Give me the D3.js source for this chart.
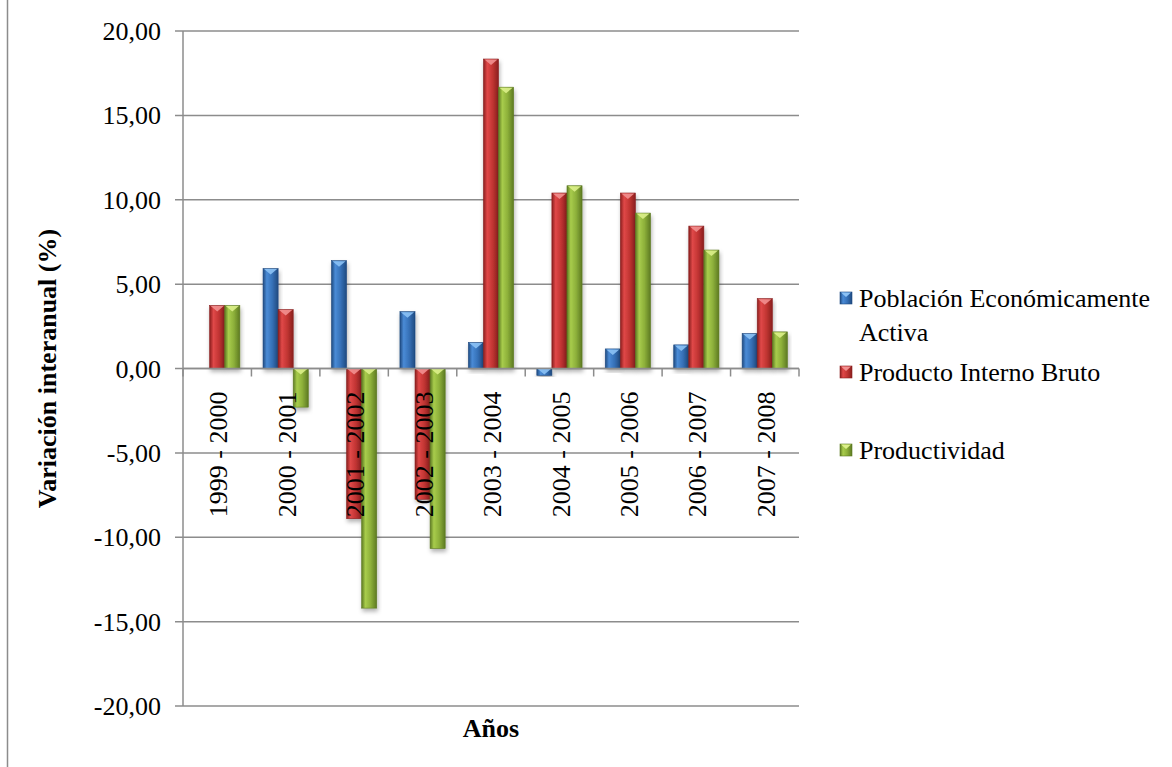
<!DOCTYPE html>
<html>
<head>
<meta charset="utf-8">
<script src="https://cdn.jsdelivr.net/npm/d3@7"></script>
<style>
  body { margin: 0; background: #fff; }
</style>
</head>
<body>
<div id="chart"></div>
<script>
const categories = ["1999 - 2000", "2000 - 2001", "2001 - 2002", "2002 - 2003", "2003 - 2004",
    "2004 - 2005", "2005 - 2006", "2006 - 2007", "2007 - 2008"];
const seriesNames = ["Población Económicamente Activa", "Producto Interno Bruto", "Productividad"];
const pea = [0, 5.92, 6.39, 3.37, 1.54, -0.41, 1.16, 1.40, 2.07];
const pib = [3.73, 3.49, -8.90, -7.75, 18.34, 10.40, 10.40, 8.44, 4.14];
const productividad = [3.73, -2.29, -14.20, -10.67, 16.67, 10.83, 9.21, 7.02, 2.17];
const yTicks = [-20, -15, -10, -5, 0, 5, 10, 15, 20];

const colors = [
    { light: "#4a8bd6", mid: "#3671b8", dark: "#1f4a80", tip: "#8cc2f5" },
    { light: "#e04848", mid: "#c23533", dark: "#8a1f1e", tip: "#f29090" },
    { light: "#a8cc4c", mid: "#8db03a", dark: "#5d7a22", tip: "#dcf08a" }
];

const W = 1172, H = 767;
const plot = { left: 183, right: 799, top: 31, bottom: 706 };
const FONT = "'Liberation Serif', Tinos, 'Times New Roman', 'DejaVu Serif', serif";
const FS = 26;

const svg = d3.select("#chart")
    .append("svg")
        .attr("width", W)
        .attr("height", H)
        .attr("font-family", FONT);

const defs = svg.append("defs");
colors.forEach((c, i) => {
    const g = defs.append("linearGradient")
        .attr("id", `grad${i}`)
        .attr("x1", "0").attr("x2", "1").attr("y1", "0").attr("y2", "0");
    g.append("stop").attr("offset", "0%").attr("stop-color", c.dark);
    g.append("stop").attr("offset", "25%").attr("stop-color", c.light);
    g.append("stop").attr("offset", "60%").attr("stop-color", c.mid);
    g.append("stop").attr("offset", "100%").attr("stop-color", c.dark);
});
const shadow = defs.append("filter").attr("id", "shadow")
    .attr("x", "-30%").attr("y", "-10%").attr("width", "160%").attr("height", "130%");
shadow.append("feDropShadow")
    .attr("dx", 1).attr("dy", 3).attr("stdDeviation", 2)
    .attr("flood-color", "#000").attr("flood-opacity", 0.3);

// left frame edge
svg.append("line")
    .attr("x1", 7.5).attr("x2", 7.5).attr("y1", 0).attr("y2", H)
    .attr("stroke", "#8c8c8c").attr("stroke-width", 1.5);

const y = d3.scaleLinear()
    .domain([-20, 20])
    .range([plot.bottom, plot.top]);

const x0 = d3.scaleBand()
    .domain(categories)
    .range([plot.left, plot.right]);

const x1 = d3.scaleBand()
    .domain(d3.range(3))
    .range([11.6, x0.bandwidth() - 11.6]);

// gridlines
svg.append("g")
    .selectAll("line")
    .data(yTicks)
    .enter()
    .append("line")
        .attr("x1", plot.left - 8)
        .attr("x2", plot.right)
        .attr("y1", d => y(d))
        .attr("y2", d => y(d))
        .attr("stroke", "#8c8c8c")
        .attr("stroke-width", 1.5);

// y axis labels
const fmt = d => d3.format(".2f")(d).replace(".", ",").replace("\u2212", "-");
svg.append("g")
    .selectAll("text")
    .data(yTicks)
    .enter()
    .append("text")
        .attr("x", 161)
        .attr("y", d => y(d))
        .attr("dy", "0.35em")
        .attr("text-anchor", "end")
        .attr("font-size", FS)
        .text(fmt);

svg.append("line")
    .attr("x1", plot.left).attr("x2", plot.left)
    .attr("y1", plot.top).attr("y2", plot.bottom)
    .attr("stroke", "#8c8c8c").attr("stroke-width", 1.5);

// bars
const seriesData = [pea, pib, productividad];
const groups = svg.append("g")
    .selectAll("g")
    .data(categories)
    .enter()
    .append("g")
        .attr("transform", d => `translate(${x0(d)},0)`);

const bars = groups.selectAll("g")
    .data((d, ci) => seriesData.map((s, si) => ({ si, v: s[ci] })).filter(d => d.v !== 0))
    .enter()
    .append("g");

bars.append("rect")
    .attr("x", d => x1(d.si))
    .attr("y", d => y(Math.max(0, d.v)))
    .attr("width", x1.bandwidth())
    .attr("height", d => Math.abs(y(d.v) - y(0)))
    .attr("fill", d => `url(#grad${d.si})`)
    .attr("stroke", d => colors[d.si].dark)
    .attr("stroke-width", 0.6)
    .attr("filter", "url(#shadow)");

bars.append("path")
    .attr("d", d => {
        const xl = x1(d.si), w = x1.bandwidth();
        const top = y(Math.max(0, d.v));
        const h = Math.min(6, Math.abs(y(d.v) - y(0)));
        return `M${xl + 1},${top + 0.5} L${xl + w - 1},${top + 0.5} L${xl + w / 2},${top + h} Z`;
    })
    .attr("fill", d => colors[d.si].tip)
    .attr("opacity", 0.9);

// x axis line & ticks
svg.append("line")
    .attr("x1", plot.left).attr("x2", plot.right)
    .attr("y1", y(0)).attr("y2", y(0))
    .attr("stroke", "#8c8c8c").attr("stroke-width", 1.5);

svg.append("g")
    .selectAll("line")
    .data(categories.concat(["end"]))
    .enter()
    .append("line")
        .attr("x1", (d, i) => plot.left + i * x0.step())
        .attr("x2", (d, i) => plot.left + i * x0.step())
        .attr("y1", y(0))
        .attr("y2", y(0) + 8)
        .attr("stroke", "#8c8c8c")
        .attr("stroke-width", 1.5);

// category labels
svg.append("g")
    .selectAll("text")
    .data(categories)
    .enter()
    .append("text")
        .attr("transform", d => `translate(${x0(d) + x0.bandwidth() / 2 + 1},${y(0) + 23}) rotate(-90)`)
        .attr("text-anchor", "end")
        .attr("dy", "0.35em")
        .attr("font-size", FS)
        .text(d => d);

// axis titles
svg.append("text")
    .attr("transform", `translate(47,${y(0)}) rotate(-90)`)
    .attr("text-anchor", "middle")
    .attr("dy", "0.35em")
    .attr("font-size", FS)
    .attr("font-weight", "bold")
    .text("Variación interanual (%)");

svg.append("text")
    .attr("x", (plot.left + plot.right) / 2)
    .attr("y", 737)
    .attr("text-anchor", "middle")
    .attr("font-size", FS)
    .attr("font-weight", "bold")
    .text("Años");

// legend
const legendRows = [
    { si: 0, lines: ["Población Económicamente", "Activa"], y: 298 },
    { si: 1, lines: ["Producto Interno Bruto"], y: 372 },
    { si: 2, lines: ["Productividad"], y: 450 }
];
const legend = svg.append("g")
    .selectAll("g")
    .data(legendRows)
    .enter()
    .append("g")
        .attr("transform", d => `translate(840,${d.y})`);

legend.append("rect")
    .attr("x", 0).attr("y", -6)
    .attr("width", 12).attr("height", 12)
    .attr("fill", d => `url(#grad${d.si})`)
    .attr("stroke", d => colors[d.si].dark)
    .attr("stroke-width", 0.6);
legend.append("path")
    .attr("d", "M1,-5.5 L11,-5.5 L6,-1 Z")
    .attr("fill", d => colors[d.si].tip);

legend.selectAll("text")
    .data(d => d.lines)
    .enter()
    .append("text")
        .attr("x", 19)
        .attr("y", (d, i) => i * 34)
        .attr("dy", "0.35em")
        .attr("font-size", FS)
        .text(d => d);
</script>
</body>
</html>
